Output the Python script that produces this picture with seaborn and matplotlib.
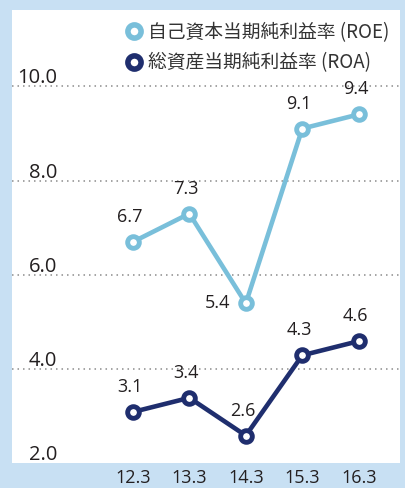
import matplotlib
matplotlib.use("Agg")
import matplotlib.pyplot as plt
from matplotlib.lines import Line2D
import seaborn as sns
import pandas as pd

# data
years = ["12.3", "13.3", "14.3", "15.3", "16.3"]
roe = [6.7, 7.3, 5.4, 9.1, 9.4]
roa = [3.1, 3.4, 2.6, 4.3, 4.6]
roe_label = "自己資本当期純利益率 (ROE)"
roa_label = "総資産当期純利益率 (ROA)"
y_ticks = [2.0, 4.0, 6.0, 8.0, 10.0]

ROE_COLOR = "#79bfda"
ROA_COLOR = "#1f2e6e"
BG_COLOR = "#c8e0f3"
TEXT_COLOR = "#231f20"
NUM_FONT = ["Open Sans", "Noto Sans CJK JP", "DejaVu Sans"]

sns.set_theme(style="white")
plt.rcParams["font.family"] = ["Noto Sans CJK JP", "DejaVu Sans"]

df = pd.DataFrame({"x": range(len(years)), "roe": roe, "roa": roa})

W, H = 405, 488
fig = plt.figure(figsize=(W / 100, H / 100), dpi=100, facecolor=BG_COLOR)
# white panel: x 12..400, y 10..463 (pixels from top)
ax = fig.add_axes([12 / W, (H - 463) / H, (400 - 12) / W, (463 - 10) / H])
ax.set_facecolor("white")

line_kw = dict(marker="o", markersize=8.4, markerfacecolor="white",
               markeredgewidth=3.5, linewidth=3.3)
sns.lineplot(data=df, x="x", y="roe", ax=ax, color=ROE_COLOR,
             markeredgecolor=ROE_COLOR, zorder=3, **line_kw)
sns.lineplot(data=df, x="x", y="roa", ax=ax, color=ROA_COLOR,
             markeredgecolor=ROA_COLOR, zorder=3, **line_kw)

ax.set_xlim(-2.14, 4.73)
ax.set_ylim(2.02, 11.61)

# dotted gridlines
for v in y_ticks[1:]:
    ax.axhline(v, color="#8c8c8c", linewidth=1.1, linestyle=(0, (1, 2.6)), zorder=1)

# y labels sit inside the panel, just above each gridline
for v in y_ticks:
    ax.annotate(f"{v:.1f}", xy=(0.117, v), xycoords=("axes fraction", "data"),
                xytext=(0, 3 if v > 2 else 4), textcoords="offset pixels",
                ha="right", va="baseline", fontsize=14.5, color=TEXT_COLOR,
                family=NUM_FONT)

# value labels
for i, v in enumerate(roe):
    dx, dy = (-28, 0) if i == 2 else (-3, 25)
    ax.annotate(f"{v:.1f}", xy=(i, v), xytext=(dx, dy), textcoords="offset pixels",
                ha="center", va="center", fontsize=13, color=TEXT_COLOR,
                family=NUM_FONT)
for i, v in enumerate(roa):
    ax.annotate(f"{v:.1f}", xy=(i, v), xytext=(-3, 25), textcoords="offset pixels",
                ha="center", va="center", fontsize=13, color=TEXT_COLOR,
                family=NUM_FONT)

ax.set_xticks(range(len(years)))
ax.set_xticklabels(years, fontsize=13, color=TEXT_COLOR, family=NUM_FONT)
ax.tick_params(axis="x", length=0, pad=4)
ax.set_yticks([])
ax.set_xlabel("")
ax.set_ylabel("")
for s in ax.spines.values():
    s.set_visible(False)

handles = [
    Line2D([], [], linestyle="none", marker="o", markersize=9.5, markerfacecolor="white",
           markeredgecolor=ROE_COLOR, markeredgewidth=4),
    Line2D([], [], linestyle="none", marker="o", markersize=9.5, markerfacecolor="white",
           markeredgecolor=ROA_COLOR, markeredgewidth=4),
]
leg = fig.legend(handles, [roe_label, roa_label], loc="upper left",
                 bbox_to_anchor=(126 / W, 1 - 22 / H), frameon=False,
                 fontsize=13.5, handlelength=0.8, handletextpad=0.4,
                 labelspacing=0.5, borderaxespad=0, borderpad=0)
for t in leg.get_texts():
    t.set_color("#333333")

fig.savefig("out.png", dpi=100, facecolor=BG_COLOR)
